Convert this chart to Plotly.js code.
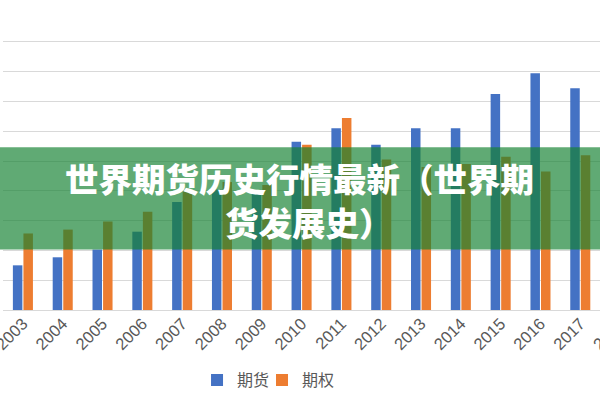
<!DOCTYPE html>
<html>
<head>
<meta charset="utf-8">
<script src="https://cdn.plot.ly/plotly-3.0.1.min.js"></script>
<style>
html,body{margin:0;padding:0;overflow:hidden;background:#fff;width:600px;height:400px;}
#chart{width:650px;height:400px;}
</style>
</head>
<body>
<div id="chart"></div>
<script>
// Data (单位：亿手)
const years = ['2003','2004','2005','2006','2007','2008','2009','2010','2011','2012','2013','2014','2015','2016','2017','2018'];
const futures = [30, 35.4, 40.6, 52.6, 72.6, 81, 79, 113, 122, 111, 122, 122, 145, 159, 149, null];
const options = [51.4, 54, 59.4, 66, 80, 86, 84, 111, 129, 101, 96, 98, 103, 93, 104, null];
const seriesNames = ['期货', '期权'];
const titleLine1 = '世界期货历史行情最新（世界期';
const titleLine2 = '货发展史）';

const axisFont = {family: 'Liberation Sans, Arial, sans-serif', size: 16.5, color: '#595959'};
const legendFont = {family: 'Noto Sans CJK SC, sans-serif', size: 16, color: '#595959'};

const traces = [
  {type: 'bar', name: seriesNames[0], x: years, y: futures, marker: {color: '#4472C4'}, legend: 'legend'},
  {type: 'bar', name: seriesNames[1], x: years, y: options, marker: {color: '#ED7D31'}, legend: 'legend2'}
];

const layout = {
  width: 650, height: 400,
  margin: {l: 3, r: 10, t: 40, b: 88},
  paper_bgcolor: '#ffffff', plot_bgcolor: '#ffffff',
  barmode: 'group', bargap: 0.47, bargroupgap: 0.1,
  showlegend: true,
  legend: {orientation: 'h', x: 0.3046, xanchor: 'left', y: -0.26, yanchor: 'middle',
           font: legendFont, itemwidth: 30, bgcolor: 'rgba(0,0,0,0)'},
  legend2: {orientation: 'h', x: 0.4066, xanchor: 'left', y: -0.26, yanchor: 'middle',
           font: legendFont, itemwidth: 30, bgcolor: 'rgba(0,0,0,0)'},
  xaxis: {type: 'category', tickangle: -45, tickfont: axisFont, showgrid: false,
          showline: false, ticks: '', fixedrange: true},
  yaxis: {range: [0, 181.33], dtick: 20, showticklabels: false, showgrid: true,
          gridcolor: '#d9d9d9', gridwidth: 1, zeroline: true, zerolinecolor: '#d9d9d9',
          zerolinewidth: 1, showline: false, ticks: '', fixedrange: true},
  shapes: [{type: 'rect', xref: 'paper', yref: 'paper', x0: -0.01, x1: 1.02, y0: 0.224, y1: 0.603,
            fillcolor: 'rgba(20,130,50,0.68)', line: {width: 0}, layer: 'above'}],
  annotations: [
    {xref: 'paper', yref: 'paper', x: 0.466, y: 0.489, xanchor: 'center', yanchor: 'middle',
     text: titleLine1, showarrow: false,
     font: {family: 'Noto Sans CJK SC, sans-serif', size: 33.5, color: '#ffffff', weight: 900}},
    {xref: 'paper', yref: 'paper', x: 0.481, y: 0.327, xanchor: 'center', yanchor: 'middle',
     text: titleLine2, showarrow: false,
     font: {family: 'Noto Sans CJK SC, sans-serif', size: 33.5, color: '#ffffff', weight: 900}}
  ]
};

Plotly.newPlot('chart', traces, layout, {displayModeBar: false, staticPlot: true});
</script>
</body>
</html>
